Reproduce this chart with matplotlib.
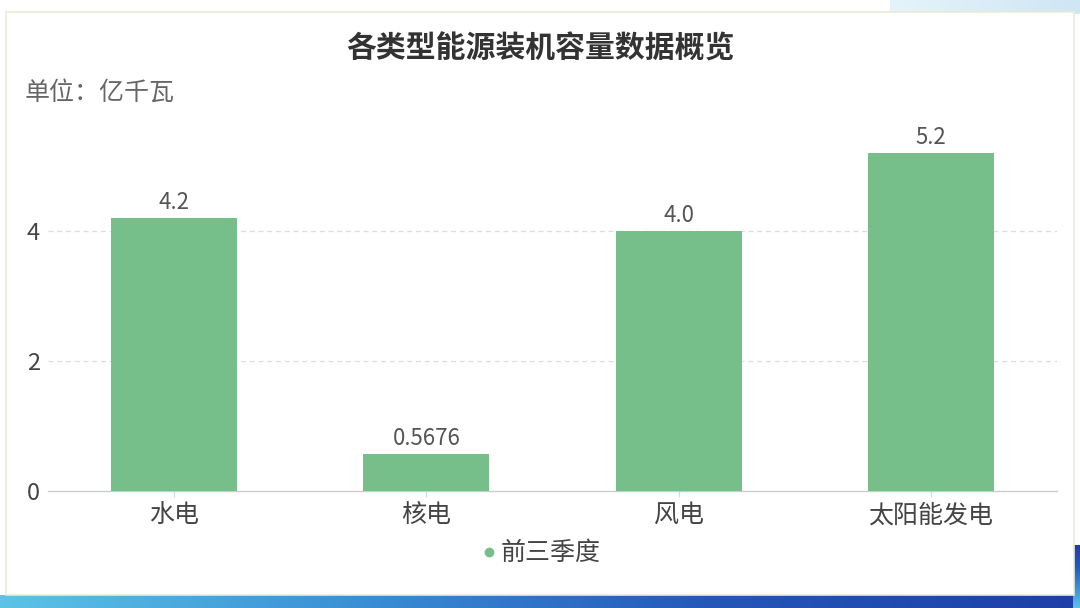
import numpy as np
import matplotlib
matplotlib.use("Agg")
from matplotlib import pyplot as plt
from matplotlib.patches import Rectangle
from matplotlib.lines import Line2D
from matplotlib.colors import LinearSegmentedColormap

plt.rcParams['font.family'] = ['Noto Sans CJK SC', 'DejaVu Sans']

# data
categories = ['水电', '核电', '风电', '太阳能发电']
values = [4.2, 0.5676, 4.0, 5.2]
value_labels = ['4.2', '0.5676', '4.0', '5.2']
series_name = '前三季度'
title = '各类型能源装机容量数据概览'
unit_text = '单位：亿千瓦'

bar_color = '#76bf8b'

fig = plt.figure(figsize=(10.8, 6.08), dpi=100)
fig.patch.set_facecolor('white')

# background decoration (card + blue bands)
bg = fig.add_axes([0, 0, 1, 1], zorder=-10)
grad = np.linspace(0, 1, 256).reshape(1, -1)
blue_cm = LinearSegmentedColormap.from_list('b', ['#5cc3e6', '#3a8fd4', '#2456b8', '#1e3fa6'])
bg.imshow(grad, cmap=blue_cm, extent=(0, 1080, 608, 595), aspect='auto', zorder=0)
bg.imshow(grad.T[::-1], cmap=blue_cm, extent=(1073, 1080, 608, 545), aspect='auto', zorder=0)
light_cm = LinearSegmentedColormap.from_list('l', ['#e6f3fa', '#cfe6f5'])
bg.imshow(grad, cmap=light_cm, extent=(890, 1080, 14, 0), aspect='auto', zorder=0)
bg.add_patch(Rectangle((6, 12), 1068, 583, facecolor='white', edgecolor='#e8ecd6', lw=1.2, zorder=1))
bg.set_xlim(0, 1080)
bg.set_ylim(608, 0)
bg.axis('off')

ax = fig.add_axes([0.0444, 0.1924, 0.9343, 0.6415])
ax.set_facecolor('none')
x = np.arange(len(categories))
bars = ax.bar(x, values, width=0.5, color=bar_color, zorder=3)
ax.bar_label(bars, labels=value_labels, padding=3, fontsize=16, color='#555555')

ax.set_xlim(-0.5, len(categories) - 0.5)
ax.set_ylim(0, 6)
ax.set_yticks([0, 2, 4])
ax.set_xticks(x)
ax.set_xticklabels(categories, fontsize=18, color='#444444')
ax.tick_params(axis='y', length=0, labelsize=17, labelcolor='#444444', pad=6)
ax.tick_params(axis='x', length=4, color='#d8d8d8', pad=4)
for v in [2, 4]:
    ax.axhline(v, color='#dddddd', lw=0.9, ls=(0, (4, 3)), zorder=1)
for s in ['top', 'right', 'left']:
    ax.spines[s].set_visible(False)
ax.spines['bottom'].set_color('#cccccc')
ax.spines['bottom'].set_linewidth(1)

fig.text(0.5, 0.92, title, ha='center', va='center', fontsize=21.5,
         fontweight='bold', color='#333333')
fig.text(0.023, 0.847, unit_text, ha='left', va='center', fontsize=18, color='#666666')

handle = Line2D([], [], marker='o', ls='none', color=bar_color, markersize=6)
fig.legend([handle], [series_name], loc='center', bbox_to_anchor=(0.5, 0.09),
           frameon=False, fontsize=18, handletextpad=0.05, handlelength=0.8,
           labelcolor='#444444')

fig.savefig('out.png', dpi=100)
